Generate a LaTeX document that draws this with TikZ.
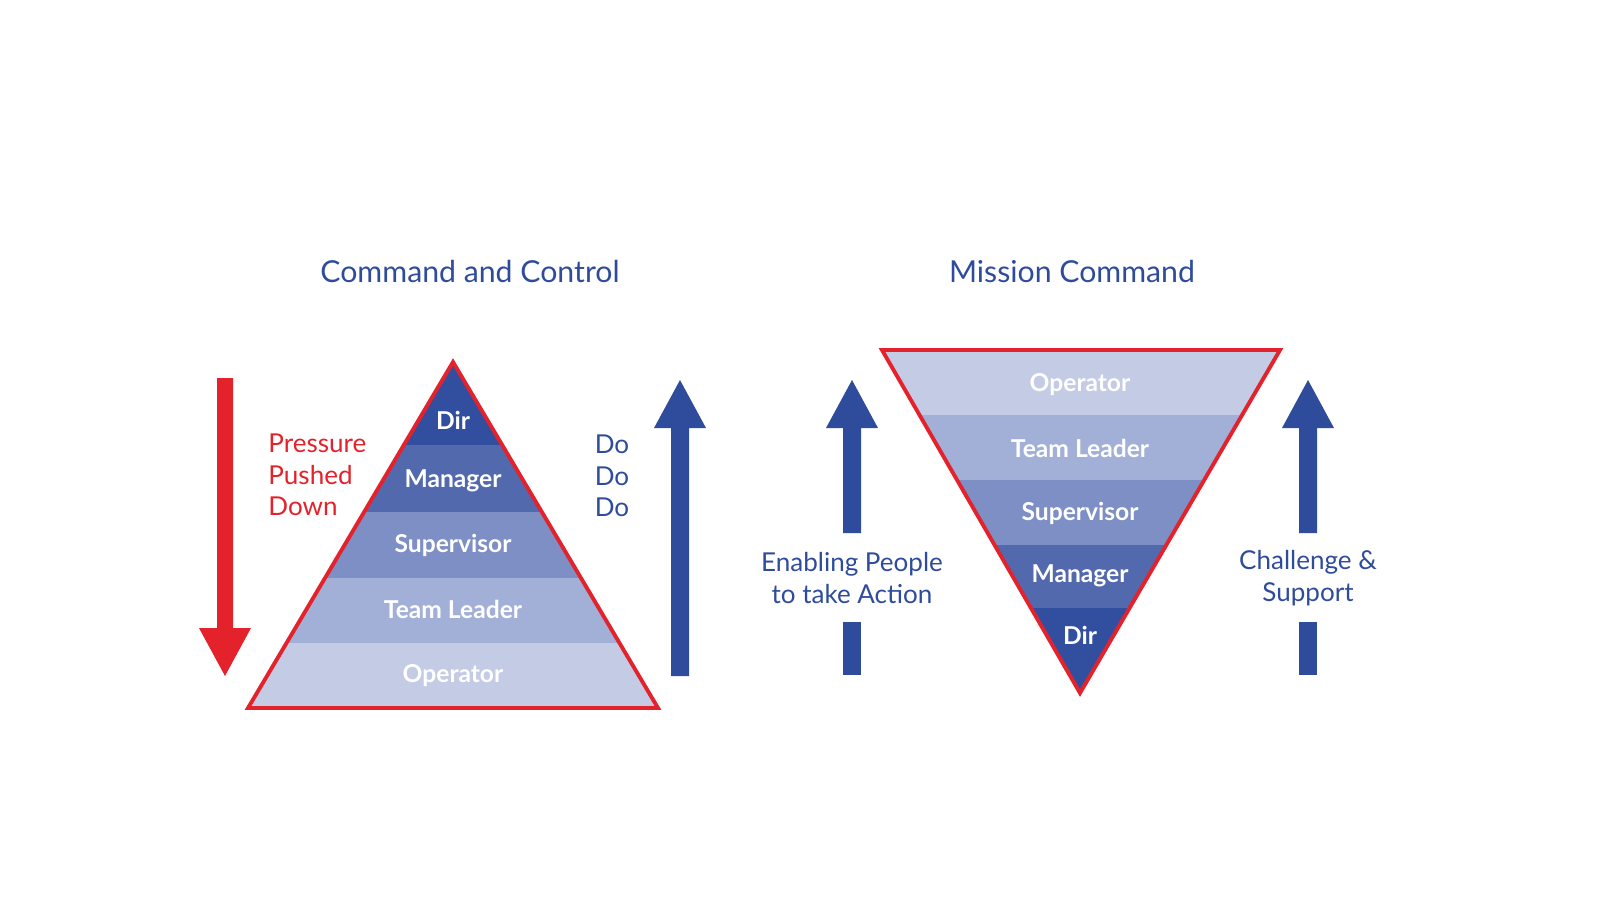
\documentclass[tikz,border=0pt]{standalone}
\usepackage{fontspec}
\setmainfont{Lato}
\definecolor{cblue}{HTML}{2F4C9C}
\definecolor{cred}{HTML}{E3222B}
\definecolor{bA}{HTML}{324E9E}
\definecolor{bB}{HTML}{5369AE}
\definecolor{bC}{HTML}{7D8FC4}
\definecolor{bD}{HTML}{A2AFD7}
\definecolor{bE}{HTML}{C3CBE5}
\begin{document}
\begin{tikzpicture}[x=0.01cm,y=-0.01cm,
  lbl/.style={text=white,font=\fontsize{7pt}{8pt}\selectfont\bfseries},
  title/.style={text=cblue,font=\fontsize{8.6pt}{10pt}\selectfont},
  side/.style={font=\fontsize{7.4pt}{9pt}\selectfont,align=center}]
\useasboundingbox (0,0) rectangle (1600,900);
% left pyramid
\begin{scope}
\clip (453,362) -- (658,708) -- (248,708) -- cycle;
\fill[bA] (240,355) rectangle (670,445);
\fill[bB] (240,445) rectangle (670,512);
\fill[bC] (240,512) rectangle (670,578);
\fill[bD] (240,578) rectangle (670,643);
\fill[bE] (240,643) rectangle (670,712);
\end{scope}
\draw[cred,line width=1.1pt,line join=miter] (453,362) -- (658,708) -- (248,708) -- cycle;
\node[lbl] (l1) at (453,420) {Dir};
\node[lbl] (l2) at (453,481) {Manager};
\node[lbl] (l3) at (453,545) {Supervisor};
\node[lbl] (l4) at (453,609) {Team Leader};
\node[lbl] (l5) at (453,676) {Operator};
% right pyramid
\begin{scope}
\clip (882,350) -- (1280,350) -- (1080,693) -- cycle;
\fill[bE] (870,340) rectangle (1290,415);
\fill[bD] (870,415) rectangle (1290,480);
\fill[bC] (870,480) rectangle (1290,545);
\fill[bB] (870,545) rectangle (1290,608);
\fill[bA] (870,608) rectangle (1290,700);
\end{scope}
\draw[cred,line width=1.1pt,line join=miter] (882,350) -- (1280,350) -- (1080,693) -- cycle;
\node[lbl] (r1) at (1080,385) {Operator};
\node[lbl] (r2) at (1080,448) {Team Leader};
\node[lbl] (r3) at (1080,513) {Supervisor};
\node[lbl] (r4) at (1080,576) {Manager};
\node[lbl] (r5) at (1080,635) {Dir};
% titles
\node[title] (t1) at (470,271) {Command and Control};
\node[title] (t2) at (1072,271) {Mission Command};
% red arrow
\fill[cred] (217,378) -- (233,378) -- (233,628) -- (251,628) -- (225,676) -- (199,628) -- (217,628) -- cycle;
\node[side,text=cred,align=left,anchor=west] (pp) at (256,475) {Pressure\\Pushed\\Down};
% blue up arrow left
\fill[cblue] (671,676) -- (689,676) -- (689,428) -- (706,428) -- (680,380) -- (654,428) -- (671,428) -- cycle;
\node[side,text=cblue] (do) at (612,476) {Do\\Do\\Do};
% right arrows
\foreach \x in {852,1308}{
\fill[cblue] (\x-9,533) -- (\x+9,533) -- (\x+9,428) -- (\x+26,428) -- (\x,380) -- (\x-26,428) -- (\x-9,428) -- cycle;
\fill[cblue] (\x-9,622) rectangle (\x+9,675);
}
\node[side,text=cblue] (en) at (852,578) {Enabling People\\to take Action};
\node[side,text=cblue] (cs) at (1308,578) {Challenge \&\\Support};
\end{tikzpicture}
\end{document}
